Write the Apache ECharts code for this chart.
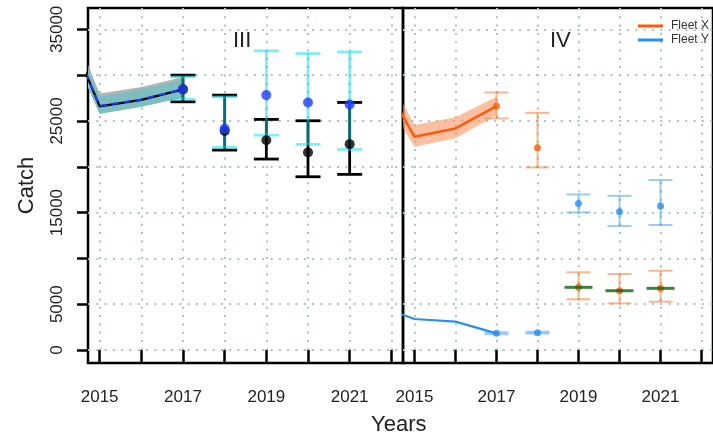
<!DOCTYPE html>
<html>
<head>
<meta charset="utf-8">
<script src="https://cdn.jsdelivr.net/npm/echarts@6/dist/echarts.min.js"></script>
<style>
  html, body { margin: 0; padding: 0; background: #fff; }
  #chart { width: 713px; height: 438px; }
</style>
</head>
<body>
<div id="chart"></div>
<script>
// ---------- Panel III: fitted catch (black model, blue model) ----------
const fitYears = [2014, 2015, 2016, 2017];
const fitBlack = [37500, 26600, 27300, 28450];
const fitBlue = [37500, 26650, 27350, 28470];
const bandGreyLow = [36000, 25800, 26540, 27560];
const bandGreyHigh = [39200, 28000, 28720, 29800];
const bandTealLow = [36000, 25800, 26540, 27560];
const bandTealHigh = [38800, 27630, 28470, 29530];

// Panel III: projections with intervals
const projYears = [2017, 2018, 2019, 2020, 2021];
const blackPt = [28450, 23900, 22900, 21570, 22470];
const blackLow = [27090, 21820, 20840, 18910, 19170];
const blackHigh = [30000, 27820, 25170, 25020, 27020];
const bluePt = [28470, 24150, 27820, 27020, 26800];
const cyanLow = [27380, 22110, 23450, 22440, 21890];
const cyanHigh = [29820, 27630, 32650, 32360, 32540];

// ---------- Panel IV: Fleet X / Fleet Y ----------
const fleetXFit = [31300, 23270, 24180, 26620];
const fleetXBandLow = [29500, 22180, 23100, 25630];
const fleetXBandHigh = [33000, 24550, 25400, 27630];
const fleetYFit = [5010, 3380, 3090, 1820];

const fleetXPt = [26620, 22070, 6840, 6470, 6730];
const fleetXLow = [25270, 19930, 5530, 5090, 5270];
const fleetXHigh = [28110, 25890, 8480, 8290, 8650];
const fleetYPt = [1820, 1890, 16000, 15090, 15710];
const fleetYLow = [1720, 1800, 15020, 13530, 13640];
const fleetYHigh = [1930, 1990, 16980, 16830, 18545];

const greenYears = [2019, 2020, 2021];
const greenVal = [6840, 6470, 6730];

// ---------- Axis ticks ----------
const yTicks = [0, 5000, 10000, 15000, 20000, 25000, 30000, 35000];
const yLabels = [0, 5000, 15000, 25000, 35000];
const xTicks = [2015, 2016, 2017, 2018, 2019, 2020, 2021, 2022];
const xLabels = [2015, 2017, 2019, 2021];
const panelNames = ['III', 'IV'];

const FONT = '"Liberation Sans", Arial, Helvetica, sans-serif';
const yMin = -1420, yMax = 37330;
const xMin = 2014.72, xMax = 2022.28;
const GRID_DOTS = { color: '#a9c4c4', width: 2, type: [2, 6.3] };

const pairs = (xs, ys) => xs.map((x, i) => [x, ys[i]]);

// Shaded confidence band: one polygon, clipped to the plotting area
function band(idx, low, high, color, z) {
  return {
    type: 'custom', xAxisIndex: idx, yAxisIndex: idx, silent: true, z: z, clip: true,
    data: [[fitYears[0], low[0]]],
    renderItem(params, api) {
      const top = fitYears.map((x, i) => api.coord([x, high[i]]));
      const bot = fitYears.map((x, i) => api.coord([x, low[i]])).reverse();
      const cs = params.coordSys;
      return {
        type: 'polygon',
        shape: { points: top.concat(bot) },
        style: { fill: color },
        clipPath: { type: 'rect', shape: { x: cs.x, y: cs.y, width: cs.width, height: cs.height } }
      };
    }
  };
}

function errorBars(idx, years, lo, hi, color, width, capW, z) {
  return {
    type: 'custom', xAxisIndex: idx, yAxisIndex: idx, silent: true, z: z,
    data: years.map((y, i) => [y, lo[i], hi[i]]),
    encode: { x: 0, y: [1, 2] },
    renderItem(params, api) {
      const x = api.value(0);
      const a = api.coord([x, api.value(1)]);
      const b = api.coord([x, api.value(2)]);
      const h = capW / 2;
      const style = { stroke: color, lineWidth: width, fill: null };
      return { type: 'group', children: [
        { type: 'line', shape: { x1: a[0], y1: a[1], x2: b[0], y2: b[1] }, style },
        { type: 'line', shape: { x1: a[0] - h, y1: a[1], x2: a[0] + h, y2: a[1] }, style },
        { type: 'line', shape: { x1: b[0] - h, y1: b[1], x2: b[0] + h, y2: b[1] }, style }
      ] };
    }
  };
}

function xAxis(idx) {
  return {
    type: 'value', gridIndex: idx, min: xMin, max: xMax,
    axisLine: { show: false },
    axisTick: { show: true, length: 12, customValues: xTicks, lineStyle: { color: '#000', width: 2.5 } },
    axisLabel: { customValues: xLabels, margin: 26, fontSize: 17, color: '#222', fontFamily: FONT,
                 formatter: v => String(v) },
    splitLine: { show: true, lineStyle: GRID_DOTS }
  };
}

function yAxis(idx) {
  return {
    type: 'value', gridIndex: idx, min: yMin, max: yMax,
    axisLine: { show: false },
    axisTick: { show: idx === 0, length: 11, customValues: yTicks, lineStyle: { color: '#000', width: 2.5 } },
    axisLabel: { show: idx === 0, customValues: yLabels, rotate: 90, margin: 22, fontSize: 17,
                 color: '#222', fontFamily: FONT, formatter: v => String(v) },
    splitLine: { show: true, lineStyle: GRID_DOTS },
    name: idx === 0 ? 'Catch' : '', nameLocation: 'middle', nameGap: 50, nameRotate: 90,
    nameTextStyle: { fontSize: 22, color: '#222', fontFamily: FONT }
  };
}

const series = [
  // Panel III bands and fitted lines
  band(0, bandGreyLow, bandGreyHigh, 'rgba(160,163,163,0.8)', 1),
  band(0, bandTealLow, bandTealHigh, 'rgba(122,192,194,0.95)', 2),
  { type: 'line', xAxisIndex: 0, yAxisIndex: 0, data: pairs(fitYears, fitBlack), symbol: 'none',
    lineStyle: { color: '#000', width: 2.2 }, silent: true, z: 3 },
  { type: 'line', xAxisIndex: 0, yAxisIndex: 0, data: pairs(fitYears, fitBlue), symbol: 'none',
    lineStyle: { color: '#1f3dff', width: 2, type: [7, 5] }, silent: true, z: 4 },
  errorBars(0, projYears, blackLow, blackHigh, '#000', 2.8, 25, 5),
  errorBars(0, projYears, cyanLow, cyanHigh, 'rgba(0,222,235,0.5)', 2.8, 25, 6),
  { type: 'scatter', xAxisIndex: 0, yAxisIndex: 0, data: pairs(projYears, blackPt), symbolSize: 10,
    itemStyle: { color: '#000' }, silent: true, z: 7 },
  { type: 'scatter', xAxisIndex: 0, yAxisIndex: 0, data: pairs(projYears, bluePt), symbolSize: 10,
    itemStyle: { color: '#1f3dff' }, silent: true, z: 8 },

  // Panel IV
  band(1, fleetXBandLow, fleetXBandHigh, 'rgba(249,150,100,0.6)', 1),
  { name: 'Fleet X', type: 'line', xAxisIndex: 1, yAxisIndex: 1, data: pairs(fitYears, fleetXFit),
    symbol: 'none', color: '#ff5a0a', lineStyle: { color: '#ff5a0a', width: 2.5 }, silent: true, z: 3 },
  { name: 'Fleet Y', type: 'line', xAxisIndex: 1, yAxisIndex: 1, data: pairs(fitYears, fleetYFit),
    symbol: 'none', color: '#2b8fe8', lineStyle: { color: '#2b8fe8', width: 2.2 }, silent: true, z: 3 },
  errorBars(1, projYears, fleetXLow, fleetXHigh, 'rgba(245,120,50,0.55)', 2, 24, 5),
  errorBars(1, projYears, fleetYLow, fleetYHigh, 'rgba(60,150,235,0.5)', 2, 24, 5),
  { type: 'scatter', xAxisIndex: 1, yAxisIndex: 1, data: pairs(projYears, fleetXPt), symbolSize: 7,
    itemStyle: { color: '#f26012' }, silent: true, z: 7 },
  { type: 'scatter', xAxisIndex: 1, yAxisIndex: 1, data: pairs(projYears, fleetYPt), symbolSize: 7,
    itemStyle: { color: '#2b8fe8' }, silent: true, z: 7 },
  { type: 'scatter', xAxisIndex: 1, yAxisIndex: 1, data: pairs(greenYears, greenVal), symbol: 'rect',
    symbolSize: [28, 3], itemStyle: { color: '#0b650b' }, silent: true, z: 8 }
];

const chart = echarts.init(document.getElementById('chart'), null, { renderer: 'canvas' });
chart.setOption({
  animation: false,
  backgroundColor: '#fff',
  grid: [
    { left: 88, top: 8, width: 315, height: 355, show: true, borderColor: '#000', borderWidth: 2.5,
      backgroundColor: 'transparent' },
    { left: 403, top: 8, width: 315, height: 355, show: true, borderColor: '#000', borderWidth: 2.5,
      backgroundColor: 'transparent' }
  ],
  xAxis: [xAxis(0), xAxis(1)],
  yAxis: [yAxis(0), yAxis(1)],
  legend: {
    data: ['Fleet X', 'Fleet Y'], orient: 'vertical', left: 638, top: 20, padding: 0,
    itemWidth: 25, itemHeight: 3, itemGap: 2, icon: 'rect',
    textStyle: { fontSize: 12, color: '#333', fontFamily: FONT, padding: [0, 0, 0, 3] }
  },
  graphic: [
    { type: 'text', left: 233, top: 30, style: { text: panelNames[0], fontSize: 22, fill: '#222', fontFamily: FONT } },
    { type: 'text', left: 550, top: 30, style: { text: panelNames[1], fontSize: 22, fill: '#222', fontFamily: FONT } },
    { type: 'text', left: 371, top: 414, style: { text: 'Years', fontSize: 22, fill: '#222', fontFamily: FONT } }
  ],
  series: series
});
</script>
</body>
</html>
